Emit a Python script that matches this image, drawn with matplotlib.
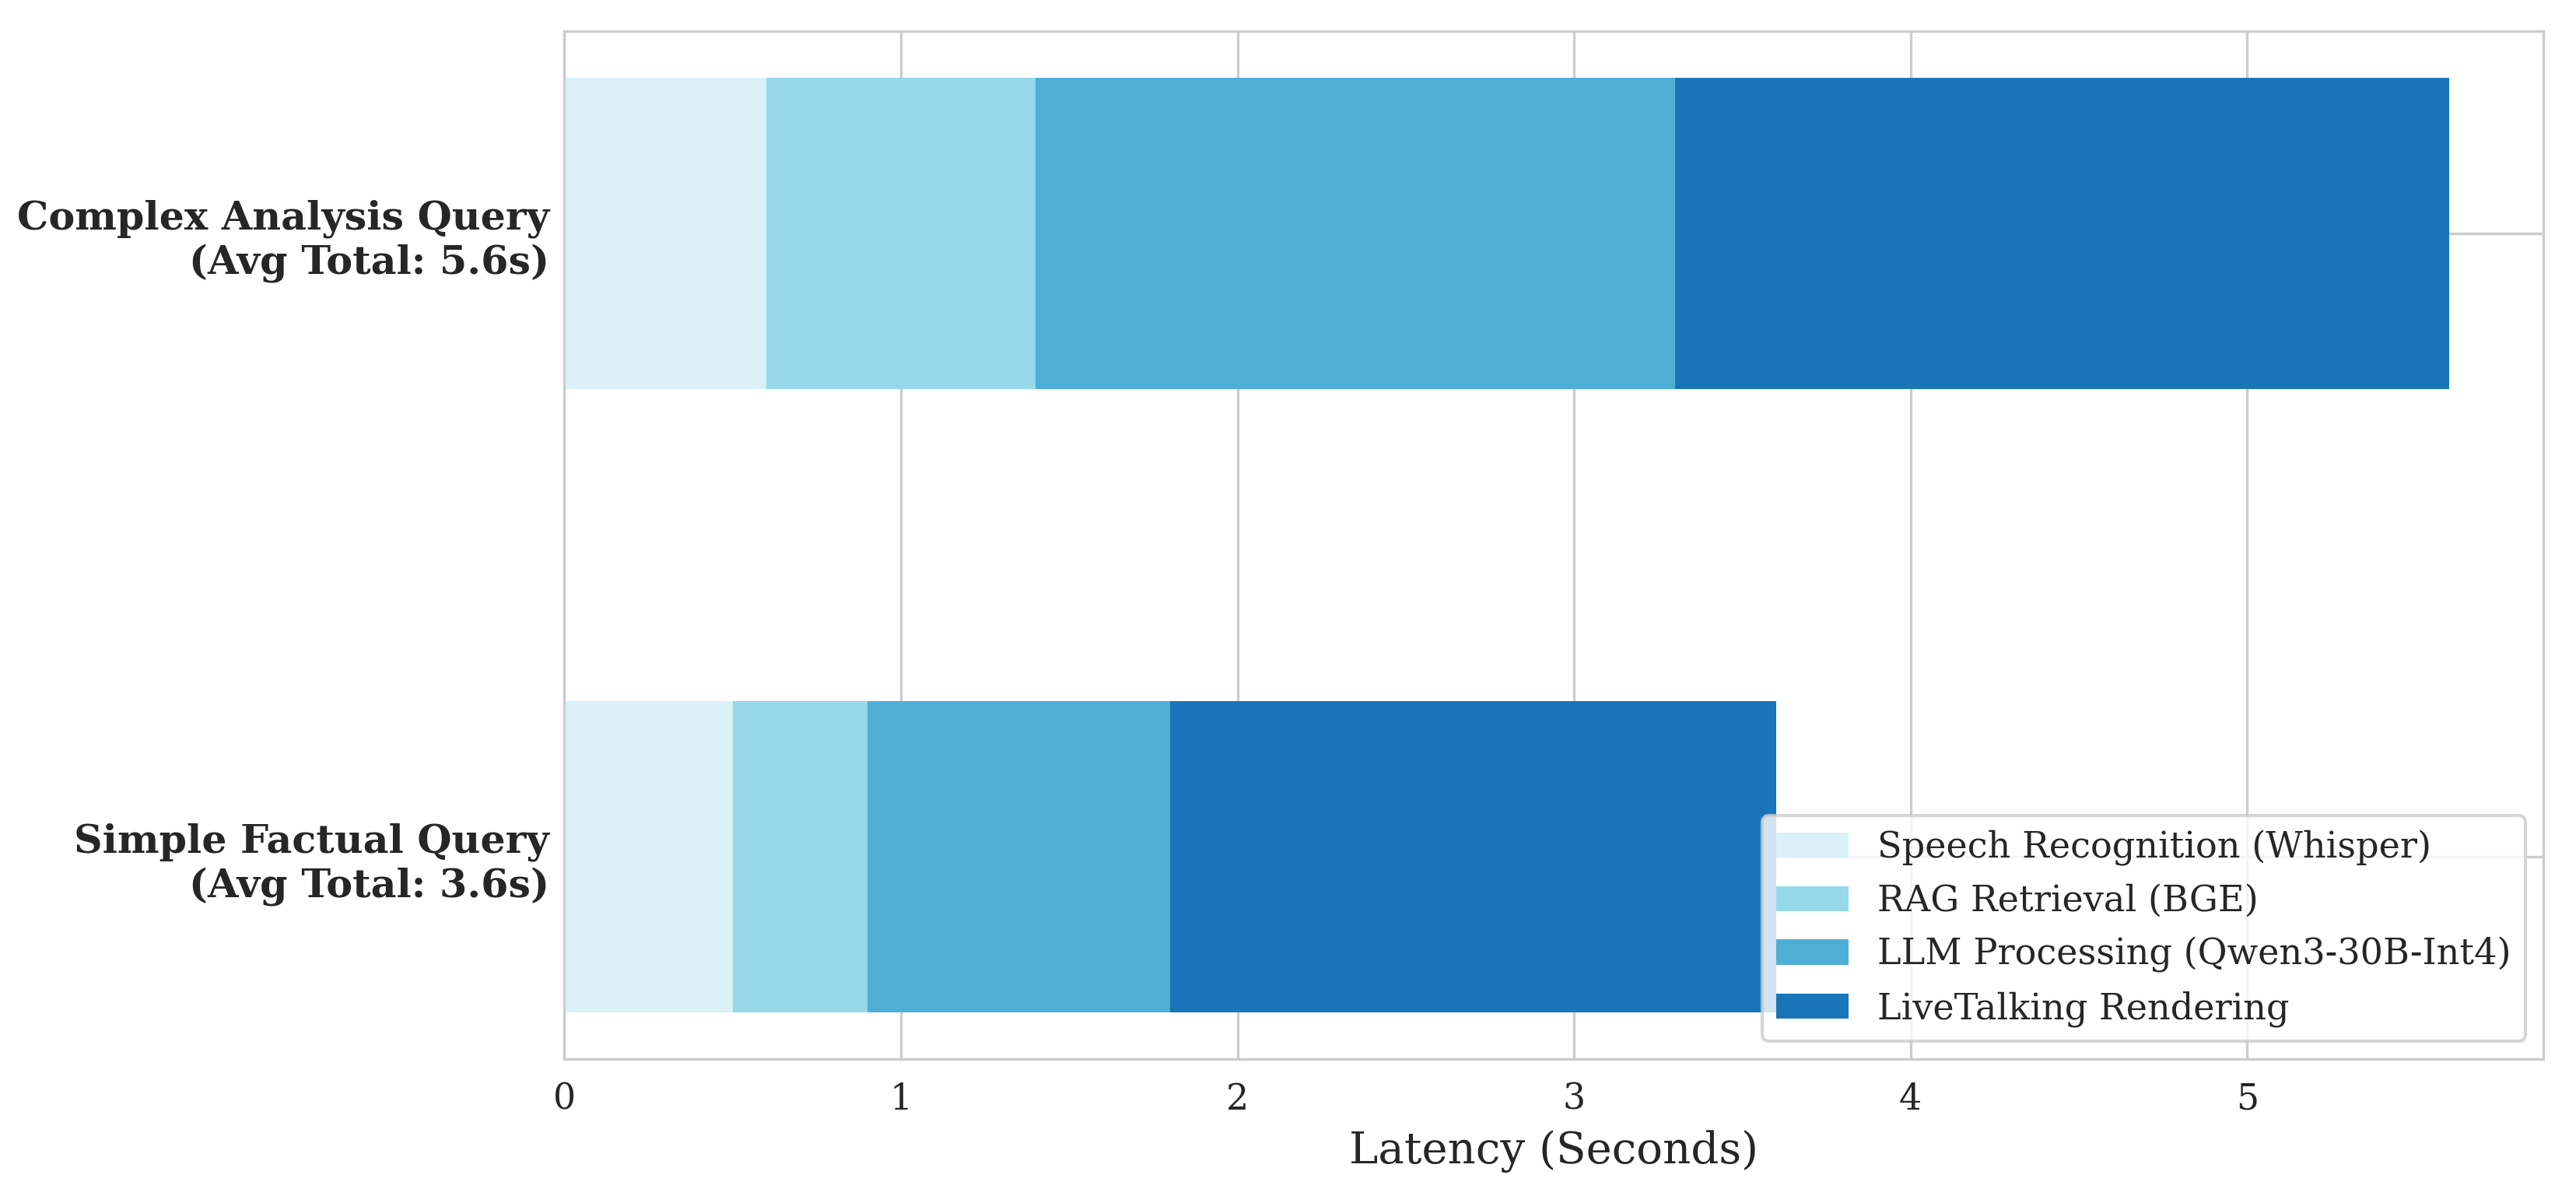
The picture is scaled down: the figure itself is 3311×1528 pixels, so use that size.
import matplotlib
matplotlib.use("Agg")
import matplotlib.pyplot as plt
import seaborn as sns
import numpy as np

# Latency breakdown per query type (seconds)
queries = ["Simple Factual Query\n(Avg Total: 3.6s)",
           "Complex Analysis Query\n(Avg Total: 5.6s)"]
stages = ["Speech Recognition (Whisper)", "RAG Retrieval (BGE)",
          "LLM Processing (Qwen3-30B-Int4)", "LiveTalking Rendering"]
asr = [0.5, 0.6]
rag = [0.4, 0.8]
llm = [0.9, 1.9]
render = [1.8, 2.3]
colors = ["#d9f1f7", "#97d9ea", "#4faed5", "#1a75b8"]

sns.set_style("whitegrid")
plt.rcParams["font.family"] = ["DejaVu Serif"]

fig, ax = plt.subplots(figsize=(3312 / 300, 1528 / 300), dpi=300)

left = np.zeros(len(queries))
for vals, name, c in zip([asr, rag, llm, render], stages, colors):
    ax.barh(queries, vals, left=left, height=0.5, color=c, label=name,
            linewidth=0)
    left += np.array(vals)

ax.set_xlim(0, max(left) * 1.05)
ax.set_xlabel("Latency (Seconds)", fontsize=13.5)
ax.tick_params(axis="x", labelsize=11)
ax.tick_params(axis="y", labelsize=12.2)
ax.tick_params(axis="y", pad=ax.yaxis.get_major_ticks()[0].get_pad() - 2.4)
for lbl in ax.get_yticklabels():
    lbl.set_fontweight("bold")
ax.legend(loc="lower right", fontsize=11.1)

plt.subplots_adjust(left=0.219, right=0.987, top=0.974, bottom=0.109)
plt.savefig("out.png", dpi=300)
